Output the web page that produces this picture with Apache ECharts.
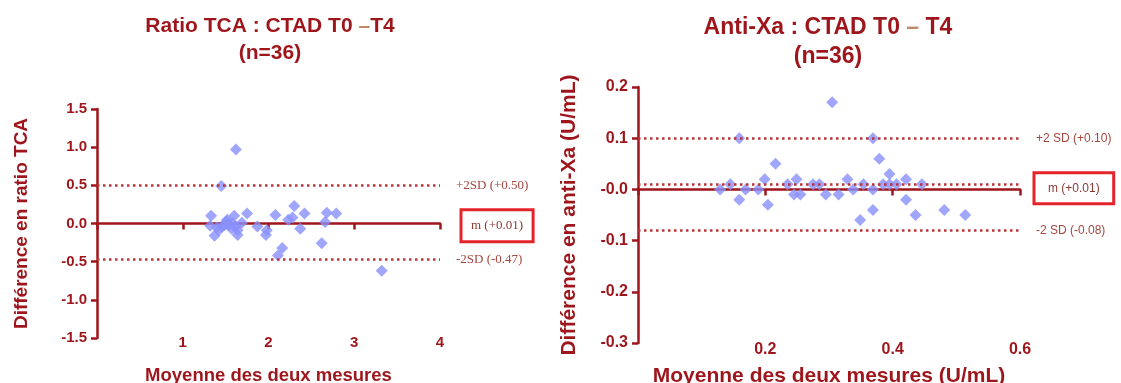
<!DOCTYPE html>
<html>
<head>
<meta charset="utf-8">
<script src="https://cdn.jsdelivr.net/npm/echarts@6/dist/echarts.min.js"></script>
<style>
  html, body { margin: 0; padding: 0; background: #fff; }
  #chart { width: 1121px; height: 383px; }
</style>
</head>
<body>
<div id="chart"></div>
<script>
// Bland-Altman: TCA ratio, CTAD tube T0 vs T4 — [mean of both, difference]
const tcaPoints = [
  [1.62, 0.97], [1.45, 0.49], [1.33, 0.10], [1.32, -0.03], [1.37, -0.16],
  [1.42, -0.09], [1.46, -0.04], [1.51, 0.03], [1.54, -0.02], [1.58, 0.00],
  [1.60, 0.10], [1.62, -0.04], [1.64, -0.15], [1.64, -0.09], [1.69, 0.01],
  [1.75, 0.13], [1.87, -0.04], [1.98, -0.09], [1.97, -0.15], [2.08, 0.11],
  [2.16, -0.32], [2.11, -0.42], [2.23, 0.05], [2.28, 0.08], [2.30, 0.23],
  [2.37, -0.07], [2.42, 0.13], [2.62, -0.26], [2.66, 0.02], [2.68, 0.14],
  [2.79, 0.13], [3.32, -0.62], [1.40, -0.05], [1.52, 0.05], [1.57, -0.07],
  [1.49, -0.02]
];
const tcaMean = 0.01;
const tcaUpper = 0.50;
const tcaLower = -0.47;
const tcaYTicks = ['-1.5', '-1.0', '-0.5', '0.0', '0.5', '1.0', '1.5'];
const tcaXTicks = ['', '1', '2', '3', '4'];

// Bland-Altman: anti-Xa activity (U/mL), CTAD tube T0 vs T4
const axaPoints = [
  [0.305, 0.17], [0.159, 0.10], [0.369, 0.10], [0.379, 0.06], [0.216, 0.05],
  [0.129, 0.00], [0.145, 0.01], [0.159, -0.02], [0.169, 0.00], [0.189, 0.00],
  [0.199, 0.02], [0.204, -0.03], [0.235, 0.01], [0.249, 0.02], [0.245, -0.01],
  [0.255, -0.01], [0.275, 0.01], [0.285, 0.01], [0.295, -0.01], [0.315, -0.01],
  [0.329, 0.02], [0.338, 0.00], [0.349, -0.06], [0.354, 0.01], [0.369, 0.00],
  [0.369, -0.04], [0.385, 0.01], [0.395, 0.03], [0.395, 0.01], [0.406, 0.01],
  [0.421, 0.02], [0.421, -0.02], [0.436, -0.05], [0.446, 0.01], [0.481, -0.04],
  [0.514, -0.05]
];
const axaMean = 0.01;
const axaUpper = 0.10;
const axaLower = -0.08;
const axaYTicks = ['-0.3', '-0.2', '-0.1', '-0.0', '0.1', '0.2'];
const axaXTicks = ['', '0.2', '0.4', '0.6'];

const DARK_RED = '#9e161b';
const LABEL_RED = '#a5463f';
const BOX_RED = '#e4242b';
const POINT = '#8890fb';
const SANS = 'Liberation Sans';

function tickFormatter(labels, min, step) {
  return v => {
    const i = Math.round((v - min) / step);
    return labels[i] !== undefined ? labels[i] : '';
  };
}

function refLine(value, text, font, size, box) {
  const label = {
    show: true,
    position: 'end',
    distance: box ? box.distance : 16,
    formatter: text,
    color: LABEL_RED,
    fontFamily: font,
    fontSize: size
  };
  if (box) {
    Object.assign(label, {
      borderColor: BOX_RED,
      borderWidth: 3,
      padding: box.padding,
      offset: [0, box.dy],
      color: '#8a3a35'
    });
  }
  return { yAxis: value, label: label };
}

function axisSet(gridIndex, min, max, step, labels, tickSize, labelMargin, name, nameSize, nameGap) {
  return [
    {
      // zero line carrying the downward ticks
      type: 'value', gridIndex: gridIndex, position: 'bottom',
      min: min, max: max, interval: step,
      axisLine: { onZero: true, lineStyle: { color: DARK_RED, width: 2.5 } },
      axisTick: { show: true, length: 6, lineStyle: { color: DARK_RED, width: 2.5 } },
      axisLabel: { show: false },
      splitLine: { show: false }
    },
    {
      // tick labels and title along the bottom of the plot
      type: 'value', gridIndex: gridIndex, position: 'bottom',
      min: min, max: max, interval: step,
      axisLine: { show: false, onZero: false },
      axisTick: { show: false },
      splitLine: { show: false },
      axisLabel: {
        margin: labelMargin, color: DARK_RED, fontWeight: 'bold', fontSize: tickSize,
        fontFamily: SANS,
        formatter: tickFormatter(labels, min, step)
      },
      name: name, nameLocation: 'middle', nameGap: nameGap,
      nameTextStyle: { color: DARK_RED, fontWeight: 'bold', fontSize: nameSize, fontFamily: SANS }
    }
  ];
}

function yAxisFor(gridIndex, min, max, step, labels, tickSize, name, nameSize, nameGap) {
  return {
    type: 'value', gridIndex: gridIndex, min: min, max: max, interval: step,
    axisLine: { show: true, onZero: false, lineStyle: { color: DARK_RED, width: 2.5 } },
    axisTick: { show: true, length: 6, lineStyle: { color: DARK_RED, width: 2.5 } },
    splitLine: { show: false },
    axisLabel: {
      margin: 10, color: DARK_RED, fontWeight: 'bold', fontSize: tickSize,
      fontFamily: SANS,
      formatter: tickFormatter(labels, min, step)
    },
    name: name, nameLocation: 'middle', nameRotate: 90, nameGap: nameGap,
    nameTextStyle: { color: DARK_RED, fontWeight: 'bold', fontSize: nameSize, fontFamily: SANS }
  };
}

const dotted = { color: '#b8353a', width: 2.5, type: [2.5, 3.5] };

const chart = echarts.init(document.getElementById('chart'), null, { renderer: 'canvas' });

function titleText(x, y, text, size) {
  return {
    type: 'text', x: x, y: y,
    style: {
      text: text, fill: DARK_RED, fontWeight: 'bold', fontSize: size, fontFamily: SANS,
      textAlign: 'center', textVerticalAlign: 'top',
      rich: { d: { fill: '#c08a6a', fontWeight: 'bold', fontSize: size, fontFamily: SANS } }
    }
  };
}

chart.setOption({
  animation: false,
  backgroundColor: '#ffffff',
  graphic: [
    titleText(270, 16, 'Ratio TCA : CTAD T0 {d|–}T4', 21),
    titleText(270, 43, '(n=36)', 21),
    titleText(828, 16, 'Anti-Xa : CTAD T0 {d|–} T4', 23),
    titleText(828, 45, '(n=36)', 23)
  ],
  grid: [
    { left: 97, right: 681, top: 109, bottom: 45, outerBoundsMode: 'none', containLabel: false },
    { left: 638, right: 101, top: 87, bottom: 40, outerBoundsMode: 'none', containLabel: false }
  ],
  xAxis: [
    ...axisSet(0, 0, 4, 1, tcaXTicks, 15, -3, 'Moyenne des deux mesures', 18.5, 28),
    ...axisSet(1, 0, 0.6, 0.2, axaXTicks, 16, -1, 'Moyenne des deux mesures (U/mL)', 21, 23)
  ],
  yAxis: [
    yAxisFor(0, -1.5, 1.5, 0.5, tcaYTicks, 15, 'Différence en ratio TCA', 19, 66),
    yAxisFor(1, -0.3, 0.2, 0.1, axaYTicks, 16, 'Différence en anti-Xa (U/mL)', 21, 58)
  ],
  series: [
    {
      type: 'scatter', xAxisIndex: 0, yAxisIndex: 0,
      symbol: 'diamond', symbolSize: 12,
      itemStyle: { color: POINT },
      data: tcaPoints,
      markLine: {
        silent: true, symbol: 'none', animation: false,
        lineStyle: dotted,
        data: [
          refLine(tcaUpper, '+2SD (+0.50)', 'Liberation Serif', 13, null),
          // the mean sits on the zero line, so only its boxed label shows
          Object.assign(
            refLine(tcaMean, 'm (+0.01)', 'Liberation Serif', 13,
              { distance: 21, padding: [10, 10, 9, 10], dy: 3 }),
            { lineStyle: { color: 'rgba(0,0,0,0)' } }),
          refLine(tcaLower, '-2SD (-0.47)', 'Liberation Serif', 13, null)
        ]
      }
    },
    {
      type: 'scatter', xAxisIndex: 2, yAxisIndex: 1,
      symbol: 'diamond', symbolSize: 12,
      itemStyle: { color: POINT },
      data: axaPoints,
      markLine: {
        silent: true, symbol: 'none', animation: false,
        lineStyle: dotted,
        data: [
          refLine(axaUpper, '+2 SD (+0.10)', SANS, 12, null),
          refLine(axaMean, 'm (+0.01)', SANS, 12,
            { distance: 14, padding: [10, 14, 9, 14], dy: 4 }),
          refLine(axaLower, '-2 SD (-0.08)', SANS, 12, null)
        ]
      }
    }
  ]
});
</script>
</body>
</html>
